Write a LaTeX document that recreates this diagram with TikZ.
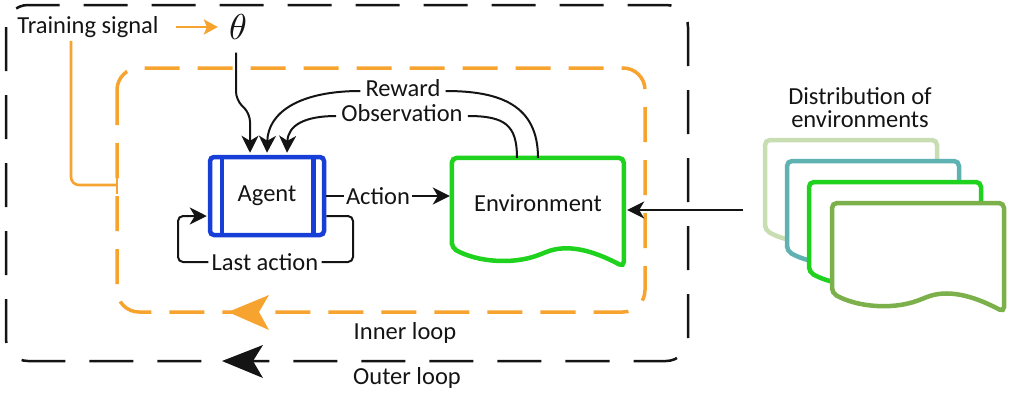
\documentclass[tikz,border=0pt]{standalone}
\usepackage{fontspec}
\setmainfont{Carlito}
\usetikzlibrary{arrows.meta,calc}
\definecolor{orng}{RGB}{247,163,48}
\definecolor{agblue}{RGB}{24,62,216}
\definecolor{envgreen}{RGB}{30,210,30}
\definecolor{lgreen}{RGB}{200,222,178}
\definecolor{stackteal}{RGB}{95,178,178}
\definecolor{olivegreen}{RGB}{124,176,74}
\definecolor{ink}{RGB}{20,20,20}
\begin{document}
\begin{tikzpicture}[x=1pt,y=-1pt,
  lbl/.style={font=\fontsize{24.5}{23}\selectfont, text=ink, inner sep=3pt},
  conn/.style={draw=ink, line width=2pt},
  tipc/.style={-{Stealth[length=17pt,width=17pt,inset=5pt]}},
  orngline/.style={draw=orng, line width=2.6pt},
  outerbox/.style={draw=ink, line width=2.5pt, rounded corners=22pt, dash pattern=on 44pt off 24pt},
  innerbox/.style={draw=orng, line width=3.5pt, rounded corners=22pt, dash pattern=on 35pt off 18pt},
  agentbox/.style={lbl, draw=agblue, line width=4.5pt, rounded corners=4pt, minimum width=114pt, minimum height=78pt},
  docshape/.pic={\path[pic actions, rounded corners=5pt] (0,90) -- (0,0) -- (172,0) -- (172,109)
     .. controls (140,92) and (115,86) .. (90,96) .. controls (60,107) and (25,104) .. (0,90) -- cycle;}
]
\useasboundingbox (0,0) rectangle (1012,400);

% loop boxes
\draw[outerbox] (6,5) rectangle (688,361);
\draw[innerbox] (117,68) rectangle (645,312);

% training signal and theta
\node[lbl] (ts) at (88,27) {Training signal};
\node[inner sep=0pt, text=ink] (theta) at (238,27) {\resizebox{!}{25pt}{$\theta$}};
\draw[orngline, -{Stealth[length=14pt,width=15pt,inset=3pt]}, shorten <=14pt, shorten >=11pt] (ts.east) -- (theta.west);
\coordinate (inW) at (117,185);
\draw[orngline, rounded corners=8pt] ([xshift=-17pt]ts.south) |- (inW);
\draw[orngline] ([yshift=9pt]inW) -- ([yshift=-9pt]inW);

% agent
\node[agentbox] (agent) at (267,196) {\raisebox{3pt}{Agent}};
\draw[agblue, line width=4.5pt] ([xshift=14pt]agent.north west) -- ([xshift=14pt]agent.south west);
\draw[agblue, line width=4.5pt] ([xshift=-13pt]agent.north east) -- ([xshift=-13pt]agent.south east);

% environment
\node[lbl, minimum width=172pt, minimum height=90pt, inner sep=0pt] (env) at (538,203) {Environment};
\pic[draw=envgreen, line width=4.5pt] at (env.north west) {docshape};

% action
\node[lbl, inner sep=2pt] (act) at (378,196) {Action};
\draw[conn] (agent.east) -- (act.west);
\draw[conn, tipc, shorten >=2pt] (act.east) -- (act.east -| env.west);

% reward and observation
\node[lbl, inner sep=5pt] (rew) at (403,88) {Reward};
\node[lbl, inner sep=5pt] (obs) at (402,113) {Observation};
\draw[conn] (env.north) .. controls (538,105) and (500,91) .. ([yshift=-3pt]rew.east);
\draw[conn, tipc] ([yshift=-3pt]rew.west) .. controls (300,91) and (268,112) .. ([yshift=2pt]agent.north);
\draw[conn] ([xshift=-21pt]env.north) .. controls (517,125) and (505,116) .. ([yshift=-3pt]obs.east);
\draw[conn, tipc] ([yshift=-3pt]obs.west) .. controls (305,116) and (288,125) .. ([xshift=20pt,yshift=2pt]agent.north);
\draw[conn, tipc, rounded corners=8pt, shorten <=13pt] ([xshift=-2pt]theta.south) -- ++(0,60) -- ++(14,14) -- ([xshift=-17pt,yshift=2pt]agent.north);

% last action
\node[lbl] (last) at (265,262) {Last action};
\coordinate (laR) at (353,262);
\coordinate (laL) at (178,216);
\draw[conn, rounded corners=5pt] ([yshift=-20pt]agent.east) -| (laR) -- (last.east);
\draw[conn, tipc, rounded corners=5pt, shorten >=1pt] (last.west) -| (laL) -- (laL -| agent.west);

% loop arrowheads and labels
\fill[orng] (228,312) -- (269,295) -- (259,312) -- (269,330) -- cycle;
\fill[ink] (222,361) -- (263,345) -- (253,361) -- (263,378) -- cycle;
\node[lbl] (inl) at (405,333) {Inner loop};
\node[lbl] (outl) at (407,378) {Outer loop};

% distribution of environments
\node[lbl, align=center] (dist) at (860,108) {Distribution of\\environments};
\pic[draw=lgreen, fill=white, line width=4.5pt] at (765,140) {docshape};
\pic[draw=stackteal, fill=white, line width=4.5pt] at (787,161) {docshape};
\pic[draw=envgreen, fill=white, line width=4.5pt] at (809,182) {docshape};
\pic[draw=olivegreen, fill=white, line width=4.5pt] at (832,203) {docshape};
\coordinate (dsrc) at (743,210);
\draw[conn, tipc, shorten >=3pt] (dsrc) -- (dsrc -| env.east);
\end{tikzpicture}
\end{document}
